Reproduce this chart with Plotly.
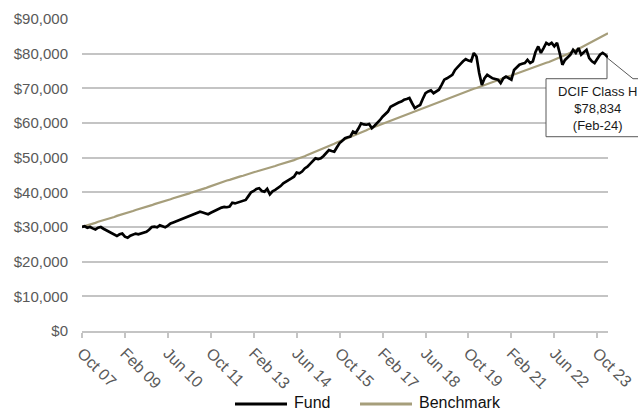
import plotly.graph_objects as go

# Month-end values of a $30,000 investment, Oct 2007 .. Feb 2024 (197 months)
fund = [
    30.0, 30.2, 29.8, 30.0, 29.6, 29.3, 29.8, 30.0, 29.5, 29.1,
    28.6, 28.1, 27.7, 27.4, 27.9, 28.1, 27.2, 26.9, 27.5, 27.9,
    28.1, 27.9, 28.1, 28.3, 28.6, 29.2, 30.0, 30.1, 29.9, 30.5,
    30.2, 29.9, 30.4, 31.0, 31.3, 31.6, 32.0, 32.3, 32.7, 33.0,
    33.2, 33.5, 33.9, 34.1, 34.4, 34.2, 33.9, 33.7, 34.1, 34.5,
    34.9, 35.2, 35.6, 35.8, 35.7, 35.9, 37.0, 36.8, 37.1, 37.3,
    37.5, 37.8, 38.9, 40.0, 40.4, 41.0, 41.2, 40.4, 40.2, 41.0,
    39.4, 40.3, 40.7, 41.2, 41.8, 42.6, 43.0, 43.6, 44.0, 44.5,
    45.7, 45.5, 46.0, 46.9, 47.4, 48.2, 49.0, 49.8, 49.6, 49.8,
    50.5, 51.3, 52.2, 51.9, 51.7, 53.0, 54.2, 54.9, 55.6, 55.9,
    56.1, 57.5, 57.1, 58.4, 59.9, 59.6, 59.5, 59.7, 58.5, 59.2,
    59.9, 60.8, 61.8, 62.5, 63.3, 64.7, 65.1, 65.7, 65.9, 66.2,
    66.7, 66.9, 67.2, 65.7, 64.3, 64.8, 65.2, 67.0, 68.6, 69.1,
    69.4, 68.6, 69.2, 69.6, 71.0, 72.5, 72.9, 73.5, 73.9, 75.3,
    76.3, 77.0, 77.8, 78.4, 78.0, 77.8, 80.2, 79.2, 74.4, 71.0,
    72.9, 73.9, 73.4, 72.9, 72.7, 72.5, 71.5, 72.9, 73.4, 73.0,
    72.5, 75.3, 76.0, 76.8, 77.1, 77.3, 78.2, 77.3, 77.8, 80.5,
    82.1, 80.2, 81.6, 83.1, 82.6, 83.1, 82.1, 83.1, 80.2, 76.8,
    78.2, 79.0, 79.7, 81.1, 80.2, 81.6, 79.7, 80.4, 81.1, 78.7,
    77.8, 77.3, 78.5, 79.7, 80.2, 79.7, 78.834,
]

benchmark = [
    30.0, 30.2, 30.5, 30.7, 31.0, 31.2, 31.5, 31.7, 32.0, 32.2,
    32.4, 32.7, 32.9, 33.2, 33.4, 33.7, 33.9, 34.1, 34.4, 34.6,
    34.9, 35.1, 35.4, 35.6, 35.9, 36.1, 36.3, 36.6, 36.8, 37.1,
    37.3, 37.6, 37.8, 38.0, 38.3, 38.5, 38.8, 39.0, 39.2, 39.5,
    39.7, 40.0, 40.2, 40.5, 40.7, 41.0, 41.2, 41.5, 41.8, 42.0,
    42.3, 42.6, 42.8, 43.1, 43.4, 43.6, 43.9, 44.1, 44.4, 44.6,
    44.8, 45.1, 45.3, 45.5, 45.8, 46.0, 46.2, 46.4, 46.7, 46.9,
    47.1, 47.4, 47.6, 47.9, 48.1, 48.3, 48.6, 48.8, 49.1, 49.3,
    49.6, 49.8, 50.1, 50.4, 50.8, 51.1, 51.4, 51.8, 52.1, 52.4,
    52.7, 53.1, 53.4, 53.7, 54.0, 54.4, 54.7, 55.0, 55.3, 55.7,
    56.0, 56.3, 56.6, 57.0, 57.3, 57.6, 57.9, 58.3, 58.6, 58.9,
    59.2, 59.6, 59.9, 60.2, 60.5, 60.8, 61.1, 61.4, 61.7, 62.0,
    62.3, 62.6, 62.8, 63.1, 63.4, 63.7, 64.0, 64.3, 64.6, 64.9,
    65.2, 65.5, 65.8, 66.2, 66.5, 66.8, 67.1, 67.4, 67.7, 68.0,
    68.2, 68.5, 68.8, 69.0, 69.3, 69.6, 69.9, 70.1, 70.4, 70.7,
    70.9, 71.2, 71.5, 71.8, 72.0, 72.3, 72.6, 72.9, 73.2, 73.5,
    73.7, 74.0, 74.3, 74.6, 74.9, 75.1, 75.4, 75.7, 76.0, 76.2,
    76.5, 76.8, 77.1, 77.4, 77.6, 77.9, 78.2, 78.5, 78.9, 79.2,
    79.6, 79.9, 80.3, 80.6, 81.0, 81.4, 81.8, 82.2, 82.6, 83.0,
    83.4, 83.8, 84.3, 84.7, 85.1, 85.5, 85.9,
]

tick_positions = [0, 16, 32, 48, 64, 80, 96, 112, 128, 144, 160, 176, 192]
tick_labels = ["Oct 07", "Feb 09", "Jun 10", "Oct 11", "Feb 13", "Jun 14", "Oct 15",
               "Feb 17", "Jun 18", "Oct 19", "Feb 21", "Jun 22", "Oct 23"]
y_ticks = [0, 10000, 20000, 30000, 40000, 50000, 60000, 70000, 80000, 90000]
y_labels = ["$0", "$10,000", "$20,000", "$30,000", "$40,000", "$50,000",
            "$60,000", "$70,000", "$80,000", "$90,000"]

callout_lines = ["DCIF Class H", "$78,834", "(Feb-24)"]

fund_usd = [v * 1000 for v in fund]
bench_usd = [v * 1000 for v in benchmark]
months = list(range(len(fund_usd)))

W, H = 638, 411
ML, MR, MT, MB = 82, 30, 19, 80
PW, PH = W - ML - MR, H - MT - MB
X_MAX = months[-1]
Y_MAX = 90000

FONT = "Liberation Sans, Arial, sans-serif"
FUND_COLOR = "#000000"
BENCH_COLOR = "#A69E7B"
GRID = "#C4C4C4"

fig = go.Figure()
fig.add_trace(go.Scatter(x=months, y=bench_usd, mode="lines", name="Benchmark",
                         line=dict(color=BENCH_COLOR, width=2.2), showlegend=False))
fig.add_trace(go.Scatter(x=months, y=fund_usd, mode="lines", name="Fund",
                         line=dict(color=FUND_COLOR, width=2.7), showlegend=False))


def px_to_paper(xp, yp):
    return (xp - ML) / PW, (H - MB - yp) / PH


# Callout box pointing at the last fund value
tip_x = months[-1] / X_MAX
tip_y = fund_usd[-1] / Y_MAX
tip_px = ML + tip_x * PW
tip_py = MT + (1 - tip_y) * PH
top_py = tip_py + 21
bot_py = tip_py + 79
left_px = tip_px - 62
right_px = tip_px + 45
wedge_px = tip_px + 25
pts = [(left_px, top_py), (tip_px - 1, top_py), (tip_px - 1, tip_py), (wedge_px, top_py),
       (right_px, top_py), (right_px, bot_py), (left_px, bot_py)]
path = ""
for i, (a, b) in enumerate(pts):
    xx, yy = px_to_paper(a, b)
    path += ("M" if i == 0 else "L") + f"{xx:.5f},{yy:.5f} "
path += "Z"
shapes = [dict(type="path", xref="paper", yref="paper", path=path,
               fillcolor="white", line=dict(color="#595959", width=1), layer="above")]

cx, cy = px_to_paper(tip_px - 11, (top_py + bot_py) / 2 + 1)
annotations = [dict(xref="paper", yref="paper", x=cx, y=cy, xanchor="center",
                    yanchor="middle", showarrow=False,
                    text="<br>".join(callout_lines), align="center",
                    font=dict(family=FONT, size=13, color="#1a1a1a"))]

# Legend drawn beneath the axis
legend_items = [("Fund", FUND_COLOR, 235), ("Benchmark", BENCH_COLOR, 360)]
for name, color, x0 in legend_items:
    xa, ya = px_to_paper(x0, 404)
    xb, _ = px_to_paper(x0 + 52, 404)
    shapes.append(dict(type="line", xref="paper", yref="paper", x0=xa, x1=xb, y0=ya, y1=ya,
                       line=dict(color=color, width=3)))
    xt, yt = px_to_paper(x0 + 57, 402)
    annotations.append(dict(xref="paper", yref="paper", x=xt, y=yt, xanchor="left",
                            yanchor="middle", showarrow=False, text=name,
                            font=dict(family=FONT, size=16, color="#111111")))

fig.update_layout(
    template="none",
    width=W, height=H,
    margin=dict(l=ML, r=MR, t=MT, b=MB, pad=0),
    paper_bgcolor="white", plot_bgcolor="white",
    font=dict(family=FONT, size=16, color="#595959"),
    shapes=shapes, annotations=annotations,
    showlegend=False,
    xaxis=dict(range=[0, X_MAX], tickmode="array", tickvals=tick_positions,
               ticktext=tick_labels, tickangle=45, showgrid=False, zeroline=False,
               automargin=False,
               showline=True, linecolor=GRID, linewidth=1.5,
               ticks="outside", ticklen=5, tickcolor=GRID, tickwidth=1.5,
               tickfont=dict(size=16, color="#595959")),
    yaxis=dict(range=[0, Y_MAX], tickmode="array", tickvals=y_ticks, ticktext=y_labels,
               showgrid=True, gridcolor=GRID, gridwidth=1.5, zeroline=False,
               automargin=False,
               showline=False, ticks="", ticklabelstandoff=13,
               tickfont=dict(size=15, color="#595959")),
)

fig.write_html("out.html")
